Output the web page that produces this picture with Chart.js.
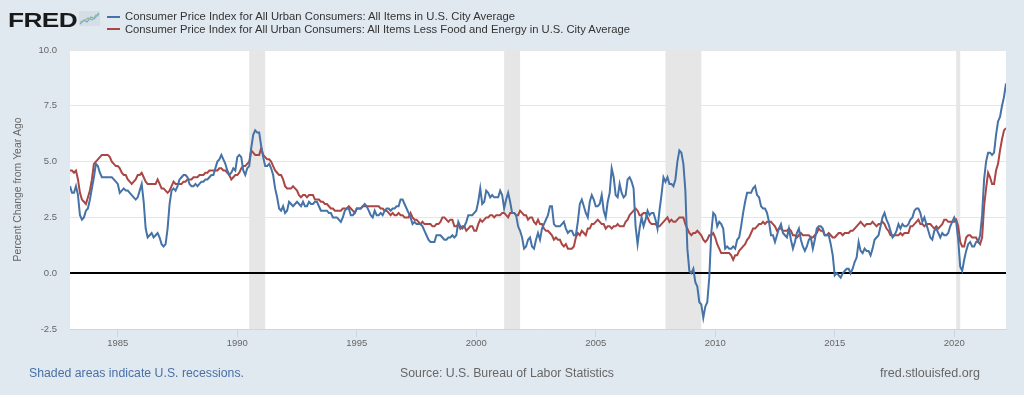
<!DOCTYPE html>
<html>
<head>
<meta charset="utf-8">
<script src="https://cdn.jsdelivr.net/npm/chart.js@4.4.0/dist/chart.umd.min.js"></script>
<style>
  body { margin: 0; background: #e1e9f0; font-family: "Liberation Sans", Arial, sans-serif; }
  #wrap { position: relative; width: 1024px; height: 395px; overflow: hidden; }
  canvas { position: absolute; left: 0; top: 0; }
  .t { position: absolute; white-space: nowrap; transform-origin: 0 50%; }
  .logo { left: 8px; top: 9px; font-size: 21px; line-height: 21px; font-weight: bold; color: #1a1a1a; letter-spacing: -0.5px; }
  .leg { left: 125px; font-size: 11px; line-height: 11px; color: #333; }
  .sw { position: absolute; left: 107px; width: 13px; height: 2px; }
  .foot { top: 367px; font-size: 12px; line-height: 12px; color: #666; }
</style>
</head>
<body>
<div id="wrap">
  <canvas id="cpiChart" width="1024" height="395"></canvas>
  <div class="t logo" data-w="69">FRED</div>
  <svg style="position:absolute;left:79px;top:11px" width="21" height="15">
    <rect x="0" y="0" width="21" height="15" fill="#d5dde6"/>
    <polyline points="1,13 5,9 8,11 12,6 15,8 20,2" fill="none" stroke="#7aa7d6" stroke-width="1.3"/>
    <polyline points="1,11 5,10 9,7 13,9 17,4 20,5" fill="none" stroke="#8fc08a" stroke-width="1.1"/>
  </svg>
  <div class="sw" style="top:16px;background:#4572a7"></div>
  <div class="sw" style="top:28px;background:#aa4643"></div>
  <div class="t leg" style="top:11px" data-w="390">Consumer Price Index for All Urban Consumers: All Items in U.S. City Average</div>
  <div class="t leg" style="top:24px" data-w="505">Consumer Price Index for All Urban Consumers: All Items Less Food and Energy in U.S. City Average</div>
  <div class="t foot" style="left:29px;color:#4a6fa5" data-w="215">Shaded areas indicate U.S. recessions.</div>
  <div class="t foot" style="left:400px" data-w="214">Source: U.S. Bureau of Labor Statistics</div>
  <div class="t foot" style="left:880px" data-w="100">fred.stlouisfed.org</div>
</div>
<script>
// monthly series, Jan 1983 .. Mar 2022, percent change from year ago
const startYear = 1983;

const cpiAll = [
  3.9, 3.6, 3.6, 3.9, 3.5, 2.6, 2.4, 2.5, 2.8, 2.9, 3.3, 3.8,   // 1983
  4.3, 4.9, 4.8, 4.5, 4.3, 4.3, 4.3, 4.3, 4.3, 4.3, 4.2, 4.1,   // 1984
  4.0, 3.6, 3.7, 3.8, 3.7, 3.7, 3.6, 3.5, 3.4, 3.3, 3.4, 3.7,   // 1985
  4.0, 3.2, 2.0, 1.6, 1.7, 1.8, 1.6, 1.7, 1.8, 1.6, 1.3, 1.2,   // 1986
  1.3, 2.0, 3.1, 3.7, 3.8, 3.7, 3.9, 4.2, 4.3, 4.4, 4.4, 4.3,   // 1987
  4.0, 3.9, 3.9, 4.0, 3.9, 4.0, 4.1, 4.1, 4.2, 4.2, 4.3, 4.4,   // 1988
  4.4, 4.7, 5.0, 5.1, 5.3, 5.1, 4.9, 4.6, 4.4, 4.5, 4.7, 4.6,   // 1989
  5.2, 5.3, 5.2, 4.6, 4.4, 4.7, 4.8, 5.6, 6.2, 6.4, 6.3, 6.3,   // 1990
  5.7, 5.2, 4.8, 4.8, 4.9, 4.7, 4.4, 3.8, 3.4, 2.9, 2.8, 3.0,   // 1991
  2.7, 2.8, 3.2, 3.1, 3.0, 3.1, 3.2, 3.1, 3.0, 3.2, 3.0, 3.0,   // 1992
  3.2, 3.1, 3.1, 3.2, 3.2, 3.0, 2.8, 2.8, 2.8, 2.8, 2.7, 2.7,   // 1993
  2.5, 2.5, 2.5, 2.4, 2.3, 2.5, 2.8, 2.9, 2.9, 2.6, 2.6, 2.7,   // 1994
  2.9, 2.9, 2.9, 3.0, 3.1, 3.0, 2.8, 2.6, 2.5, 2.8, 2.6, 2.6,   // 1995
  2.7, 2.6, 2.8, 2.9, 2.9, 2.8, 2.9, 2.9, 3.0, 3.0, 3.3, 3.3,   // 1996
  3.1, 2.9, 2.7, 2.5, 2.2, 2.3, 2.2, 2.2, 2.2, 2.1, 1.9, 1.7,   // 1997
  1.5, 1.4, 1.4, 1.4, 1.7, 1.7, 1.7, 1.6, 1.5, 1.5, 1.6, 1.6,   // 1998
  1.7, 1.6, 1.7, 2.3, 2.1, 2.0, 2.1, 2.3, 2.6, 2.6, 2.6, 2.7,   // 1999
  2.8, 3.2, 3.8, 3.1, 3.2, 3.7, 3.6, 3.4, 3.5, 3.4, 3.4, 3.4,   // 2000
  3.7, 3.5, 2.9, 3.3, 3.6, 3.2, 2.7, 2.7, 2.6, 2.1, 1.9, 1.6,   // 2001
  1.1, 1.2, 1.5, 1.6, 1.2, 1.1, 1.5, 1.8, 1.5, 2.0, 2.2, 2.4,   // 2002
  2.6, 3.0, 3.0, 2.2, 2.1, 2.1, 2.1, 2.2, 2.3, 2.0, 1.8, 1.9,   // 2003
  1.9, 1.7, 1.7, 2.3, 3.1, 3.3, 3.0, 2.7, 2.5, 3.2, 3.5, 3.3,   // 2004
  3.0, 3.0, 3.1, 3.5, 2.8, 2.5, 3.2, 3.6, 4.7, 4.3, 3.5, 3.4,   // 2005
  4.0, 3.6, 3.4, 3.5, 4.2, 4.3, 4.1, 3.8, 2.1, 1.3, 2.0, 2.5,   // 2006
  2.1, 2.4, 2.8, 2.6, 2.7, 2.7, 2.4, 2.0, 2.8, 3.5, 4.3, 4.1,   // 2007
  4.3, 4.0, 4.0, 3.9, 4.2, 5.0, 5.5, 5.4, 4.9, 3.7, 1.1, 0.1,   // 2008
  0.0, 0.2, -0.4, -0.6, -1.3, -1.4, -2.0, -1.5, -1.3, -0.2, 1.8, 2.7, // 2009
  2.6, 2.1, 2.3, 2.2, 2.0, 1.1, 1.2, 1.1, 1.1, 1.2, 1.1, 1.5,   // 2010
  1.6, 2.1, 2.7, 3.2, 3.6, 3.6, 3.6, 3.8, 3.9, 3.5, 3.4, 3.0,   // 2011
  2.9, 2.9, 2.7, 2.3, 1.7, 1.7, 1.4, 1.7, 2.0, 2.2, 1.8, 1.7,   // 2012
  1.6, 2.0, 1.5, 1.1, 1.4, 1.8, 2.0, 1.5, 1.2, 1.0, 1.2, 1.5,   // 2013
  1.6, 1.1, 1.5, 2.0, 2.1, 2.1, 2.0, 1.7, 1.7, 1.7, 1.3, 0.8,   // 2014
  -0.1, 0.0, -0.1, -0.2, 0.0, 0.1, 0.2, 0.2, 0.0, 0.2, 0.5, 0.7, // 2015
  1.4, 1.0, 0.9, 1.1, 1.0, 1.0, 0.8, 1.1, 1.5, 1.6, 1.7, 2.1,   // 2016
  2.5, 2.7, 2.4, 2.2, 1.9, 1.6, 1.7, 1.9, 2.2, 2.0, 2.2, 2.1,   // 2017
  2.1, 2.2, 2.4, 2.5, 2.8, 2.9, 2.9, 2.7, 2.3, 2.5, 2.2, 1.9,   // 2018
  1.6, 1.5, 1.9, 2.0, 1.8, 1.6, 1.8, 1.7, 1.7, 1.8, 2.1, 2.3,   // 2019
  2.5, 2.3, 1.5, 0.3, 0.1, 0.6, 1.0, 1.3, 1.4, 1.2, 1.2, 1.4,   // 2020
  1.4, 1.7, 2.6, 4.2, 5.0, 5.4, 5.4, 5.3, 5.4, 6.2, 6.8, 7.0,   // 2021
  7.5, 7.9, 8.5                                                 // 2022
];

const cpiCore = [
  4.6, 4.6, 4.5, 4.6, 4.2, 3.6, 3.3, 3.2, 3.1, 3.4, 3.7, 4.2,   // 1983
  4.9, 5.0, 5.1, 5.2, 5.3, 5.3, 5.3, 5.3, 5.2, 5.0, 4.9, 4.8,   // 1984
  4.8, 4.7, 4.5, 4.4, 4.4, 4.2, 4.1, 4.0, 4.1, 4.2, 4.4, 4.4,   // 1985
  4.5, 4.3, 4.1, 4.0, 4.0, 4.0, 4.0, 4.0, 4.2, 4.0, 3.8, 3.8,   // 1986
  3.7, 3.6, 3.7, 3.9, 4.1, 4.0, 4.0, 4.0, 4.0, 4.1, 4.1, 4.2,   // 1987
  4.2, 4.2, 4.3, 4.3, 4.3, 4.4, 4.4, 4.4, 4.5, 4.5, 4.6, 4.6,   // 1988
  4.6, 4.6, 4.6, 4.7, 4.7, 4.6, 4.6, 4.5, 4.4, 4.2, 4.3, 4.4,   // 1989
  4.4, 4.5, 4.7, 4.8, 4.8, 4.9, 5.0, 5.5, 5.4, 5.3, 5.3, 5.3,   // 1990
  5.6, 5.3, 5.2, 5.1, 5.1, 5.0, 4.8, 4.6, 4.5, 4.4, 4.4, 4.2,   // 1991
  3.9, 3.8, 3.8, 3.8, 3.9, 3.8, 3.7, 3.5, 3.4, 3.5, 3.5, 3.4,   // 1992
  3.5, 3.5, 3.5, 3.3, 3.3, 3.3, 3.2, 3.2, 3.1, 3.1, 3.0, 2.9,   // 1993
  2.9, 2.8, 2.8, 2.8, 2.8, 2.9, 2.9, 2.9, 3.0, 2.9, 2.8, 2.7,   // 1994
  2.9, 2.9, 2.9, 3.0, 3.0, 3.0, 3.0, 3.0, 3.0, 3.0, 3.0, 3.0,   // 1995
  2.9, 2.9, 2.8, 2.8, 2.7, 2.6, 2.7, 2.6, 2.6, 2.7, 2.6, 2.6,   // 1996
  2.5, 2.5, 2.5, 2.7, 2.5, 2.4, 2.4, 2.3, 2.2, 2.3, 2.2, 2.2,   // 1997
  2.2, 2.2, 2.1, 2.1, 2.2, 2.2, 2.3, 2.5, 2.5, 2.4, 2.3, 2.4,   // 1998
  2.4, 2.1, 2.1, 2.2, 2.0, 2.1, 2.1, 1.9, 2.0, 2.1, 2.1, 1.9,   // 1999
  1.9, 2.2, 2.4, 2.3, 2.4, 2.5, 2.5, 2.6, 2.6, 2.5, 2.6, 2.6,   // 2000
  2.6, 2.7, 2.7, 2.6, 2.5, 2.7, 2.7, 2.7, 2.6, 2.6, 2.8, 2.7,   // 2001
  2.6, 2.6, 2.4, 2.5, 2.5, 2.3, 2.2, 2.4, 2.2, 2.2, 2.0, 1.9,   // 2002
  1.9, 1.8, 1.7, 1.5, 1.6, 1.5, 1.5, 1.3, 1.2, 1.3, 1.1, 1.1,   // 2003
  1.1, 1.2, 1.6, 1.8, 1.7, 1.9, 1.8, 1.7, 2.0, 2.0, 2.2, 2.2,   // 2004
  2.3, 2.4, 2.3, 2.2, 2.2, 2.0, 2.1, 2.1, 2.0, 2.1, 2.1, 2.2,   // 2005
  2.1, 2.1, 2.1, 2.3, 2.4, 2.6, 2.7, 2.8, 2.9, 2.8, 2.6, 2.6,   // 2006
  2.7, 2.7, 2.5, 2.3, 2.2, 2.2, 2.2, 2.1, 2.1, 2.2, 2.3, 2.4,   // 2007
  2.5, 2.3, 2.4, 2.3, 2.3, 2.4, 2.5, 2.5, 2.5, 2.2, 2.0, 1.8,   // 2008
  1.7, 1.8, 1.8, 1.9, 1.8, 1.7, 1.5, 1.4, 1.5, 1.7, 1.7, 1.8,   // 2009
  1.6, 1.3, 1.1, 0.9, 0.9, 0.9, 0.9, 0.9, 0.8, 0.6, 0.8, 0.8,   // 2010
  1.0, 1.1, 1.2, 1.3, 1.5, 1.6, 1.8, 2.0, 2.0, 2.1, 2.2, 2.2,   // 2011
  2.3, 2.2, 2.3, 2.3, 2.3, 2.2, 2.1, 1.9, 2.0, 2.0, 1.9, 1.9,   // 2012
  1.9, 2.0, 1.9, 1.7, 1.7, 1.6, 1.7, 1.8, 1.7, 1.7, 1.7, 1.7,   // 2013
  1.6, 1.6, 1.7, 1.8, 2.0, 1.9, 1.9, 1.7, 1.7, 1.8, 1.7, 1.6,   // 2014
  1.6, 1.7, 1.8, 1.8, 1.7, 1.8, 1.8, 1.8, 1.9, 1.9, 2.0, 2.1,   // 2015
  2.2, 2.3, 2.2, 2.1, 2.2, 2.2, 2.2, 2.3, 2.2, 2.1, 2.2, 2.2,   // 2016
  2.3, 2.2, 2.0, 1.9, 1.7, 1.7, 1.7, 1.7, 1.7, 1.8, 1.7, 1.8,   // 2017
  1.8, 1.8, 2.1, 2.1, 2.2, 2.3, 2.4, 2.2, 2.2, 2.1, 2.2, 2.2,   // 2018
  2.2, 2.1, 2.0, 2.1, 2.0, 2.1, 2.2, 2.4, 2.4, 2.3, 2.3, 2.3,   // 2019
  2.3, 2.4, 2.1, 1.4, 1.2, 1.2, 1.6, 1.7, 1.7, 1.6, 1.6, 1.6,   // 2020
  1.4, 1.3, 1.6, 3.0, 3.8, 4.5, 4.3, 4.0, 4.0, 4.6, 4.9, 5.5,   // 2021
  6.0, 6.4, 6.5                                                 // 2022
];

// NBER recessions (peak month, trough month)
const recStart = ['1990-07', '2001-03', '2007-12', '2020-02'];
const recEnd   = ['1991-03', '2001-11', '2009-06', '2020-04'];

const xTicks = [1985, 1990, 1995, 2000, 2005, 2010, 2015, 2020];
const yTicks = [-2.5, 0, 2.5, 5, 7.5, 10];

const seriesNames = [
  'Consumer Price Index for All Urban Consumers: All Items in U.S. City Average',
  'Consumer Price Index for All Urban Consumers: All Items Less Food and Energy in U.S. City Average'
];

function ym(s) {
  const [y, m] = s.split('-').map(Number);
  return y + (m - 1) / 12;
}
const toPoints = arr => arr.map((v, i) => ({ x: startYear + i / 12, y: v }));

// white plot area + recession shading
const backdrop = {
  id: 'backdrop',
  beforeDraw(chart) {
    const { ctx, chartArea: a, scales: { x } } = chart;
    ctx.save();
    ctx.fillStyle = '#ffffff';
    ctx.fillRect(a.left, a.top, a.width, a.height);
    ctx.fillStyle = '#e6e6e6';
    recStart.forEach((s, i) => {
      const x0 = x.getPixelForValue(ym(s));
      const x1 = x.getPixelForValue(ym(recEnd[i]));
      ctx.fillRect(x0, a.top, x1 - x0, a.height);
    });
    ctx.restore();
  }
};

const ctx = document.getElementById('cpiChart').getContext('2d');
new Chart(ctx, {
  type: 'line',
  data: {
    datasets: [
      { label: seriesNames[0], data: toPoints(cpiAll), borderColor: '#4572a7', borderWidth: 2, pointRadius: 0, tension: 0 },
      { label: seriesNames[1], data: toPoints(cpiCore), borderColor: '#aa4643', borderWidth: 2, pointRadius: 0, tension: 0 }
    ]
  },
  options: {
    responsive: false,
    animation: false,
    devicePixelRatio: 1,
    layout: { padding: { top: 50, right: 18, left: 0, bottom: 0 } },
    plugins: { legend: { display: false }, tooltip: { enabled: false } },
    scales: {
      x: {
        type: 'linear',
        min: startYear,
        max: startYear + (cpiAll.length - 1) / 12,
        afterBuildTicks: scale => { scale.ticks = xTicks.map(v => ({ value: v })); },
        afterFit: scale => { scale.height = 66; },
        grid: { drawOnChartArea: false, drawTicks: true, tickLength: 8, color: '#ccd6eb' },
        border: { display: true, color: '#ccd6eb' },
        ticks: {
          autoSkip: false, maxRotation: 0, padding: 1, color: '#666',
          font: { family: '"Liberation Sans", Arial, sans-serif', size: 9.5 },
          callback: v => String(v)
        }
      },
      y: {
        min: -2.5,
        max: 10,
        afterBuildTicks: scale => { scale.ticks = yTicks.map(v => ({ value: v })); },
        afterFit: scale => { scale.width = 70; },
        grid: {
          drawTicks: false,
          color: c => (c.tick && c.tick.value === 0) ? '#000000' : '#e6e6e6',
          lineWidth: c => (c.tick && c.tick.value === 0) ? 2 : 1
        },
        border: { display: false },
        ticks: {
          padding: 13, color: '#666',
          font: { family: '"Liberation Sans", Arial, sans-serif', size: 9.5 },
          callback: v => v.toFixed(1)
        },
        title: {
          display: true,
          text: 'Percent Change from Year Ago',
          color: '#666',
          padding: { top: 12, bottom: 0 },
          font: { family: '"Liberation Sans", Arial, sans-serif', size: 10.4 }
        }
      }
    }
  },
  plugins: [backdrop]
});

// squeeze header/footer texts to the widths they have in the reference
document.querySelectorAll('.t').forEach(el => {
  const w = el.getBoundingClientRect().width;
  el.style.transform = 'scaleX(' + (el.dataset.w / w) + ')';
});
</script>
</body>
</html>
